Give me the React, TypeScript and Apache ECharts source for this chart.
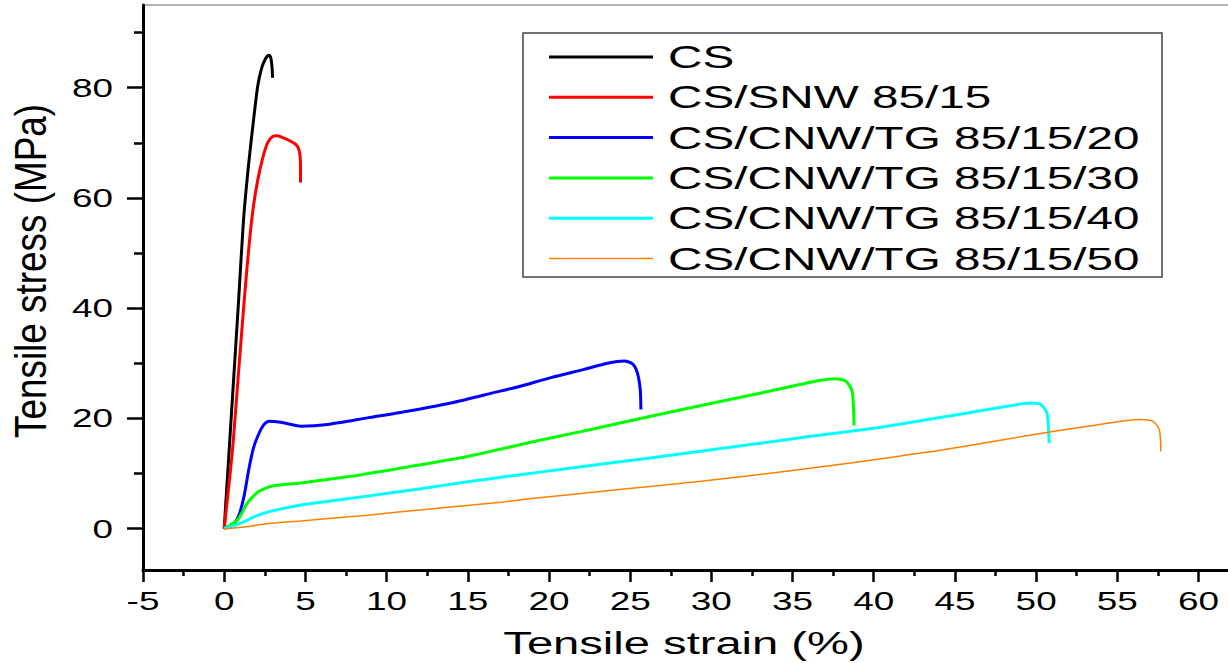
import React, { useEffect, useRef } from "react";
import * as echarts from "echarts";

// ---- data (strain %, stress MPa) ----
const csData = [
  [0, 0], [0.3, 14], [0.6, 28], [0.9, 42], [1.19, 56], [1.5, 66], [1.81, 74.2],
  [2.06, 80.2], [2.3, 83.5], [2.55, 85.3], [2.75, 85.9], [2.85, 85.6], [2.92, 84.5],
  [2.96, 83], [2.98, 81.8],
];
const snwData = [
  [0, 0], [0.51, 14.3], [0.9, 29], [1.25, 42], [1.55, 52], [1.8, 58.5], [2.05, 63],
  [2.35, 67], [2.67, 70], [3.0, 71.2], [3.25, 71.3], [3.8, 70.7], [4.41, 69.7],
  [4.6, 68.8], [4.68, 67.3], [4.7, 65], [4.7, 62.8],
];
const tg20Data = [
  [0, 0], [0.62, 1.0], [0.92, 2.5], [1.23, 6], [1.5, 10.5], [1.8, 14.6], [2.16, 17.4],
  [2.45, 18.9], [2.77, 19.5], [3.49, 19.3], [4.72, 18.6], [6.37, 18.9], [8.83, 20.1],
  [11.29, 21.3], [13.96, 22.8], [17.04, 25.0], [18.07, 25.7], [20.12, 27.4],
  [22.17, 28.9], [23.61, 30.0], [24.63, 30.4], [25.15, 29.9], [25.45, 28.2],
  [25.62, 25.2], [25.66, 21.6],
];
const tg30Data = [
  [0, 0], [0.82, 1.6], [1.44, 4.7], [2.06, 6.6], [2.6, 7.4], [3.08, 7.8], [4.72, 8.3],
  [7.8, 9.5], [10.88, 11.0], [14.99, 13.1], [19.09, 15.8], [21.96, 17.6], [23.2, 18.4],
  [28.5, 21.8], [33.05, 24.6], [36.33, 26.7], [37.56, 27.2], [38.2, 26.9], [38.5, 26.0],
  [38.69, 24.6], [38.79, 18.7],
];
const tg40Data = [
  [0, 0], [1.03, 1.0], [1.8, 2.1], [2.67, 3.0], [4.72, 4.3], [6.77, 5.1], [8.83, 5.9],
  [12, 7.2], [15, 8.5], [18, 9.7], [21.15, 10.9], [24, 12.0], [27.5, 13.3], [30, 14.3],
  [33, 15.5], [36, 16.7], [40, 18.2], [41.67, 19.0], [45.77, 21.0], [49.0, 22.6],
  [49.67, 22.8], [50.29, 22.5], [50.66, 21.0], [50.8, 15.5],
];
const tg50Data = [
  [0, 0], [1.23, 0.3], [2.67, 0.9], [4.72, 1.4], [8.83, 2.45], [10.88, 3.05], [17.04, 4.8],
  [19.09, 5.5], [24, 7.0], [29.35, 8.6], [34, 10.2], [38.6, 11.9], [41.67, 13.2],
  [44.3, 14.3], [49.88, 17.1], [53, 18.5], [56.45, 19.8], [57.17, 19.5], [57.58, 18.0],
  [57.68, 14.0],
];

const seriesNames = [
  "CS",
  "CS/SNW 85/15",
  "CS/CNW/TG 85/15/20",
  "CS/CNW/TG 85/15/30",
  "CS/CNW/TG 85/15/40",
  "CS/CNW/TG 85/15/50",
];
const seriesData = [csData, snwData, tg20Data, tg30Data, tg40Data, tg50Data];
const seriesColors = ["#000000", "#ff0000", "#0000ff", "#00ff00", "#00ffff", "#ff8000"];
const seriesWidths = [3, 3, 3, 3, 3, 1.5];

const xTickLabels = [-5, 0, 5, 10, 15, 20, 25, 30, 35, 40, 45, 50, 55, 60];
const xMinorTicks = [-2.5, 2.5, 7.5, 12.5, 17.5, 22.5, 27.5, 32.5, 37.5, 42.5, 47.5, 52.5, 57.5];
const yTickLabels = [0, 20, 40, 60, 80];
const yMinorTicks = [10, 30, 50, 70, 90];

const xTitle = "Tensile strain (%)";
const yTitle = "Tensile stress (MPa)";

const FONT = "'Liberation Sans', Arial, Helvetica, sans-serif";
const STRETCH = 1.42;

export default function App() {
  const ref = useRef<HTMLDivElement>(null);

  useEffect(() => {
    if (!ref.current) return;
    const chart = echarts.init(ref.current, null, { renderer: "svg" });

    const X_MIN = -5, X_MAX = 62, Y_MIN = -7.5, Y_MAX = 95;
    const axisCommon = {
      splitLine: { show: false },
      axisLabel: { show: false },
    };

    chart.setOption({
      animation: false,
      backgroundColor: "#ffffff",
      grid: {
        left: 143,
        top: 5,
        width: 1088,
        height: 565,
        show: true,
        borderColor: "#666666",
        borderWidth: 1,
        backgroundColor: "transparent",
        outerBoundsMode: "none",
        containLabel: false,
      },
      xAxis: [
        {
          type: "value",
          min: X_MIN,
          max: X_MAX,
          position: "bottom",
          ...axisCommon,
          axisLine: { show: true, onZero: false, lineStyle: { color: "#000", width: 3 } },
          axisTick: {
            show: true,
            inside: false,
            length: 12,
            customValues: xTickLabels,
            lineStyle: { color: "#000", width: 2.5 },
          },
        },
        {
          type: "value",
          min: X_MIN,
          max: X_MAX,
          position: "bottom",
          ...axisCommon,
          axisLine: { show: false, onZero: false },
          axisTick: {
            show: true,
            inside: false,
            length: 6,
            customValues: xMinorTicks,
            lineStyle: { color: "#000", width: 2.5 },
          },
        },
      ],
      yAxis: [
        {
          type: "value",
          min: Y_MIN,
          max: Y_MAX,
          position: "left",
          ...axisCommon,
          axisLine: { show: true, onZero: false, lineStyle: { color: "#000", width: 3 } },
          axisTick: {
            show: true,
            inside: false,
            length: 16,
            customValues: yTickLabels,
            lineStyle: { color: "#000", width: 2.5 },
          },
        },
        {
          type: "value",
          min: Y_MIN,
          max: Y_MAX,
          position: "left",
          ...axisCommon,
          axisLine: { show: false, onZero: false },
          axisTick: {
            show: true,
            inside: false,
            length: 9,
            customValues: yMinorTicks,
            lineStyle: { color: "#000", width: 2.5 },
          },
        },
      ],
      series: seriesData.map((d, i) => ({
        name: seriesNames[i],
        type: "line",
        xAxisIndex: 0,
        yAxisIndex: 0,
        data: d,
        symbol: "none",
        showSymbol: false,
        smooth: 0.25,
        lineStyle: { color: seriesColors[i], width: seriesWidths[i] },
        itemStyle: { color: seriesColors[i] },
        z: 2 + i,
      })),
    });

    const xPix = (v: number) => chart.convertToPixel({ xAxisIndex: 0 }, v) as number;
    const yPix = (v: number) => chart.convertToPixel({ yAxisIndex: 0 }, v) as number;
    const yBottom = yPix(Y_MIN);

    const graphics: any[] = [];
    // tick labels
    yTickLabels.forEach((v) => {
      graphics.push({
        type: "text",
        x: 113,
        y: yPix(v),
        scaleX: STRETCH,
        silent: true,
        style: {
          text: String(v),
          fontSize: 26,
          fontFamily: FONT,
          fill: "#000",
          align: "right",
          verticalAlign: "middle",
        },
      });
    });
    xTickLabels.forEach((v) => {
      graphics.push({
        type: "text",
        x: xPix(v),
        y: yBottom + 31,
        scaleX: STRETCH,
        silent: true,
        style: {
          text: String(v),
          fontSize: 26,
          fontFamily: FONT,
          fill: "#000",
          align: "center",
          verticalAlign: "middle",
        },
      });
    });
    // axis titles
    graphics.push({
      type: "text",
      x: 684,
      y: 643,
      scaleX: 1.52,
      silent: true,
      style: {
        text: xTitle,
        fontSize: 31,
        fontFamily: FONT,
        fill: "#000",
        align: "center",
        verticalAlign: "middle",
      },
    });
    graphics.push({
      type: "text",
      x: 31,
      y: 271,
      rotation: Math.PI / 2,
      scaleX: 1.19,
      scaleY: 1.45,
      silent: true,
      style: {
        text: yTitle,
        fontSize: 31,
        fontFamily: FONT,
        fill: "#000",
        align: "center",
        verticalAlign: "middle",
      },
    });
    // legend box
    graphics.push({
      type: "rect",
      silent: true,
      shape: { x: 523, y: 33, width: 639, height: 244 },
      style: { fill: "#ffffff", stroke: "#444444", lineWidth: 1.5 },
      z: 10,
    });
    seriesNames.forEach((name, i) => {
      const rowY = 57 + i * 40.3;
      graphics.push({
        type: "line",
        silent: true,
        shape: { x1: 549, y1: rowY, x2: 653, y2: rowY },
        style: { stroke: seriesColors[i], lineWidth: seriesWidths[i] },
        z: 11,
      });
      graphics.push({
        type: "text",
        x: 668,
        y: rowY,
        scaleX: 1.49,
        silent: true,
        z: 11,
        style: {
          text: name,
          fontSize: 32,
          fontFamily: FONT,
          fill: "#000",
          align: "left",
          verticalAlign: "middle",
        },
      });
    });

    chart.setOption({ graphic: graphics });

    return () => {
      chart.dispose();
    };
  }, []);

  return (
    <div
      ref={ref}
      style={{ position: "absolute", left: 0, top: 0, width: 1228, height: 663, background: "#fff" }}
    />
  );
}
